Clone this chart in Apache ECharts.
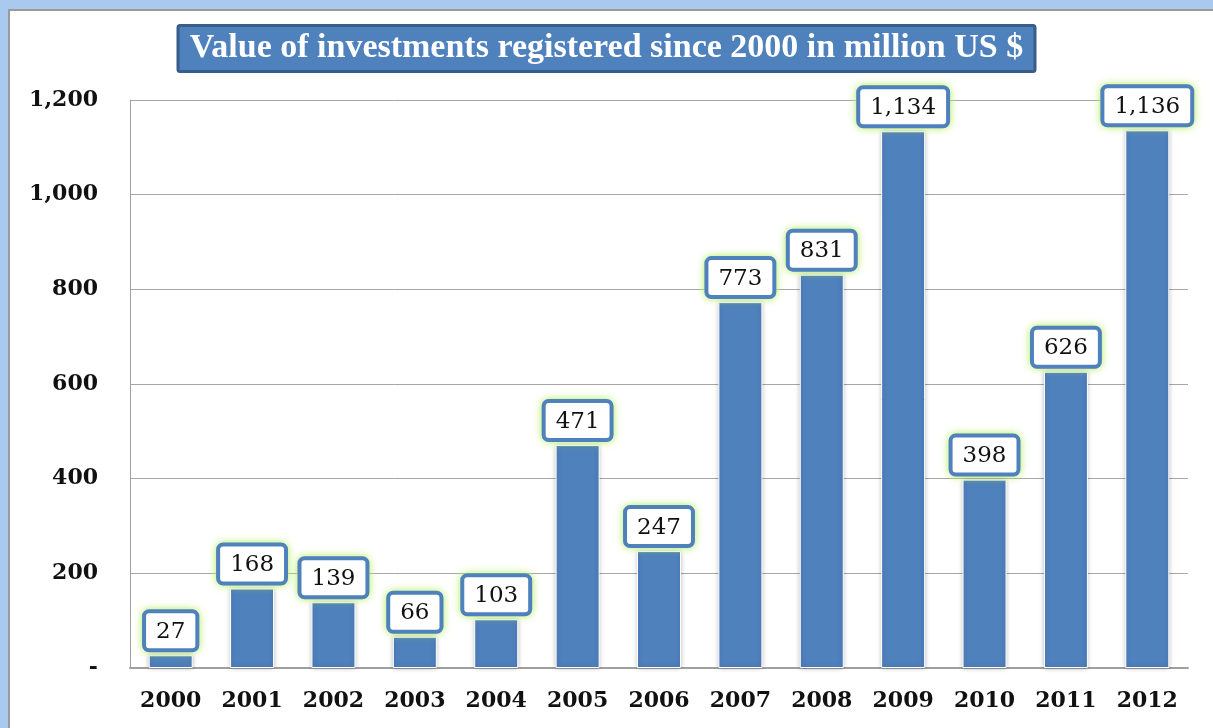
<!DOCTYPE html>
<html>
<head>
<meta charset="utf-8">
<script src="https://cdn.jsdelivr.net/npm/echarts@6/dist/echarts.min.js"></script>
<style>
  html, body { margin: 0; padding: 0; width: 1213px; height: 728px; overflow: hidden; background: #A9C9EF; }
  #frame { position: absolute; left: 8px; top: 9px; width: 1220px; height: 740px; background: #fff;
           border-left: 2px solid #9a9a9a; border-top: 2px solid #9a9a9a; }
  #chart { position: absolute; left: 0; top: 0; width: 1213px; height: 728px; }
</style>
</head>
<body>
<div id="frame"></div>
<div id="chart"></div>
<script>
// Investment values registered per year, million US $
const years = ['2000','2001','2002','2003','2004','2005','2006','2007','2008','2009','2010','2011','2012'];
const values = [27, 168, 139, 66, 103, 471, 247, 773, 831, 1134, 398, 626, 1136];
const titleText = 'Value of investments registered since 2000 in million US $';

const fmt = v => v === 0 ? '-' : v.toLocaleString('en-US');

// Shared geometry of the value boxes above the bars
const boxLabel = {
  show: true,
  position: 'top',
  distance: 7,
  formatter: p => fmt(p.value),
  fontFamily: 'DejaVu Serif',
  fontSize: 23,
  borderWidth: 4,
  borderRadius: 3,
  padding: [7, 10, 5, 10]
};

const chart = echarts.init(document.getElementById('chart'), null, { renderer: 'canvas' });
chart.setOption({
  backgroundColor: 'transparent',
  animation: false,
  title: {
    text: titleText,
    left: 'center',
    top: 25,
    padding: [6, 12, 7, 12],
    backgroundColor: '#4F81BD',
    borderColor: '#385D8A',
    borderWidth: 3,
    borderRadius: 2,
    textStyle: {
      color: '#fff',
      fontFamily: 'Liberation Serif',
      fontWeight: 'bold',
      fontSize: 34
    }
  },
  grid: { left: 130, right: 25, top: 100, bottom: 60 },
  xAxis: {
    type: 'category',
    data: years,
    axisLine: { lineStyle: { color: '#a0a0a0', width: 2 } },
    axisTick: { show: false },
    axisLabel: {
      margin: 22,
      color: '#111',
      fontFamily: 'DejaVu Serif',
      fontWeight: 'bold',
      fontSize: 22
    }
  },
  yAxis: {
    type: 'value',
    min: 0,
    max: 1200,
    interval: 200,
    axisLine: { show: true, lineStyle: { color: '#a0a0a0', width: 1 } },
    axisTick: { show: false },
    splitLine: { lineStyle: { color: '#a6a6a6', width: 1 } },
    axisLabel: {
      margin: 32,
      color: '#111',
      fontFamily: 'DejaVu Serif',
      fontWeight: 'bold',
      fontSize: 22,
      formatter: fmt
    }
  },
  series: [
    {
      // soft green glow behind each value box
      type: 'bar',
      data: values,
      barWidth: 44,
      silent: true,
      itemStyle: { color: 'rgba(0,0,0,0)' },
      label: Object.assign({}, boxLabel, {
        color: 'rgba(0,0,0,0)',
        backgroundColor: '#d6f4a4',
        borderColor: '#d6f4a4',
        shadowColor: 'rgba(185,238,110,1)',
        shadowBlur: 9
      })
    },
    {
      type: 'bar',
      data: values,
      barWidth: 44,
      barGap: '-100%',
      itemStyle: {
        color: '#4F81BD',
        borderColor: '#fff',
        borderWidth: 1,
        shadowColor: 'rgba(0,0,0,0.28)',
        shadowBlur: 5
      },
      label: Object.assign({}, boxLabel, {
        color: '#111',
        backgroundColor: '#fff',
        borderColor: '#4F81BD'
      })
    }
  ]
});
</script>
</body>
</html>
